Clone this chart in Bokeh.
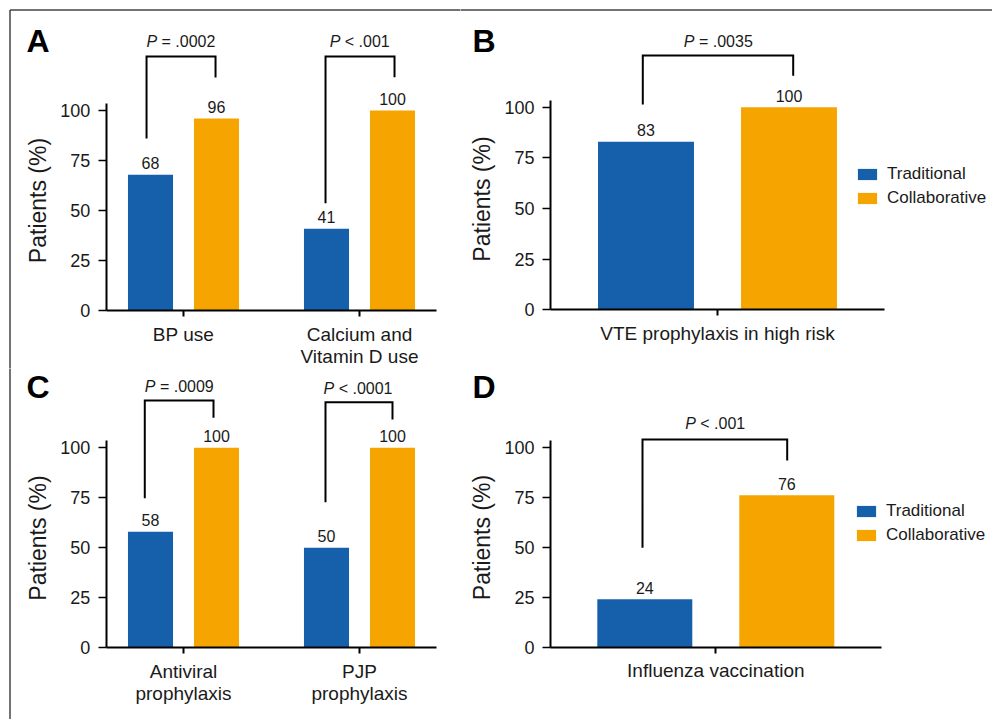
import math
from bokeh.plotting import figure
from bokeh.layouts import row, column
from bokeh.models import Range1d, FixedTicker, Legend, LegendItem
from bokeh.core.properties import value
from bokeh.embed import file_html
from bokeh.resources import INLINE

FONT = "Liberation Sans"
TXT = "#1a1a1a"
BLUE = "#1660AB"
ORANGE = "#F6A500"
BORDER = "#444444"

# ---------------- data ----------------
series_names = ["Traditional", "Collaborative"]
y_ticks = [0, 25, 50, 75, 100]

a_categories = ["BP use", "Calcium and\nVitamin D use"]
a_traditional = [68, 41]
a_collaborative = [96, 100]
a_p_ops = ["=", "<"]
a_p_values = [".0002", ".001"]

b_categories = ["VTE prophylaxis in high risk"]
b_traditional = [83]
b_collaborative = [100]
b_p_ops = ["="]
b_p_values = [".0035"]

c_categories = ["Antiviral\nprophylaxis", "PJP\nprophylaxis"]
c_traditional = [58, 50]
c_collaborative = [100, 100]
c_p_ops = ["=", "<"]
c_p_values = [".0009", ".0001"]

d_categories = ["Influenza vaccination"]
d_traditional = [24]
d_collaborative = [76]
d_p_ops = ["<"]
d_p_values = [".001"]

# ---------------- layout constants (data units of each panel) ----------------
PSIZE = 16
CHAR_W = {" ": 0.278, "=": 0.584, "<": 0.584, ".": 0.278, "P": 0.667}


def tw(s, size):
    return sum(CHAR_W.get(c, 0.556) for c in s) * size


CFG = {
    "A": dict(w=460, h=368, xr=(-0.0398, 2.5739), yr=(-28.68, 154.86),
              yaxis_x=0.5608, xaxis_end=2.4375, off=0.1875, bw=0.256,
              # (left leg dx, right leg dx, top y, left leg bottom, right leg bottom, text y, text dx)
              brackets=[(-0.210, 0.182, 126.93, 86.03, 116.46, 134.26, -0.015),
                        (-0.193, 0.199, 126.93, 53.77, 116.61, 134.26, 0.001)],
              letter=(0.108, 134.66), ylabel=(0.1705, 55.11), legend=None,
              border=dict(x=0.0142, y=150.12)),
    "B": dict(w=532, h=368, xr=(-0.7972, 2.9231), yr=(-28.97, 152.67),
              yaxis_x=-0.1678, xaxis_end=2.1678, off=0.5, bw=0.671,
              brackets=[(-0.5224, 0.5294, 125.52, 101.33, 115.50, 132.67, 0.0056)],
              letter=(-0.7133, 132.67), ylabel=(-0.6503, 54.69), legend=(395, 158),
              border=dict(x=None, y=147.98)),
    "C": dict(w=460, h=351, xr=(-0.0398, 2.5739), yr=(-35.85, 139.65),
              yaxis_x=0.5608, xaxis_end=2.4375, off=0.1875, bw=0.256,
              brackets=[(-0.220, 0.1705, 123.65, 74.8, 115.0, 130.75, -0.024),
                        (-0.1932, 0.1875, 122.8, 72.8, 114.15, 129.75, -0.0085)],
              letter=(0.108, 130.65), ylabel=(0.1705, 54.9), legend=None,
              border=dict(x=0.0142, y=None)),
    "D": dict(w=532, h=351, xr=(-0.7979, 2.9486), yr=(-36.15, 139.35),
              yaxis_x=-0.1641, xaxis_end=2.1648, off=0.5, bw=0.669,
              brackets=[(-0.5162, 0.5028, 103.85, 49.7, 93.35, 111.7, -0.004)],
              letter=(-0.7134, 130.35), ylabel=(-0.650, 54.85), legend=(394, 172),
              border=dict(x=None, y=None)),
}


def panel(letter, cats, trad, coll, p_ops, p_vals):
    c = CFG[letter]
    p = figure(width=c["w"], height=c["h"], x_range=Range1d(*c["xr"]),
               y_range=Range1d(*c["yr"]), output_backend="svg", toolbar_location=None,
               min_border_left=0, min_border_right=0, min_border_top=0, min_border_bottom=0)
    p.outline_line_color = None
    p.xgrid.visible = False
    p.ygrid.visible = False
    p.background_fill_color = "white"
    p.border_fill_color = "white"

    groups = list(range(1, len(cats) + 1))
    xb = [g - c["off"] for g in groups]
    xo = [g + c["off"] for g in groups]
    r_blue = p.vbar(x=xb, top=trad, width=c["bw"], fill_color=BLUE, line_color=None)
    r_orange = p.vbar(x=xo, top=coll, width=c["bw"], fill_color=ORANGE, line_color=None)

    # value labels above bars
    p.text(x=xb + xo, y=trad + coll, text=[str(v) for v in trad + coll],
           text_font=value(FONT), text_font_size="16px", text_color=TXT,
           text_align="center", text_baseline="middle", y_offset=-11.5)

    # significance brackets with italic P
    for g, (dl, dr, top, lb, rb, ty, tx), op, val in zip(groups, c["brackets"], p_ops, p_vals):
        p.line(x=[g + dl, g + dl, g + dr, g + dr], y=[lb, top, top, rb],
               line_width=2, line_color="black", line_join="miter")
        rest = f"{op} {val}"
        W = tw("P " + rest, PSIZE)
        p.text(x=[g + tx], y=[ty], text=["P"], x_offset=-W / 2,
               text_font=value(FONT), text_font_size=f"{PSIZE}px", text_font_style="italic",
               text_color=TXT, text_align="left", text_baseline="middle")
        p.text(x=[g + tx], y=[ty], text=[rest], x_offset=-W / 2 + tw("P ", PSIZE),
               text_font=value(FONT), text_font_size=f"{PSIZE}px",
               text_color=TXT, text_align="left", text_baseline="middle")

    # axes (fixed inside the full-canvas frame)
    xa = p.xaxis[0]
    xa.fixed_location = 0
    xa.bounds = (c["yaxis_x"], c["xaxis_end"])
    xa.ticker = FixedTicker(ticks=groups)
    xa.major_label_overrides = {g: lab for g, lab in zip(groups, cats)}
    xa.major_label_text_font = FONT
    xa.major_label_text_font_size = "19px"
    xa.major_label_text_line_height = 1.05
    xa.major_label_text_color = TXT
    xa.axis_line_width = 2
    xa.axis_line_color = "black"
    xa.major_tick_line_width = 2
    xa.major_tick_line_color = "black"
    xa.major_tick_out = 6
    xa.major_tick_in = 0
    xa.minor_tick_out = 0
    xa.minor_tick_in = 0
    xa.major_label_standoff = 7

    ya = p.yaxis[0]
    ya.fixed_location = c["yaxis_x"]
    ya.bounds = (0, 103.5)
    ya.ticker = FixedTicker(ticks=y_ticks)
    ya.major_label_text_font = FONT
    ya.major_label_text_font_size = "18px"
    ya.major_label_text_color = TXT
    ya.axis_line_width = 2
    ya.axis_line_color = "black"
    ya.major_tick_line_width = 1.5
    ya.major_tick_line_color = "black"
    ya.major_tick_out = 8
    ya.major_tick_in = 0
    ya.minor_tick_out = 0
    ya.minor_tick_in = 0
    ya.major_label_standoff = 8

    # panel letter and y-axis title
    lx, ly = c["letter"]
    p.text(x=[lx], y=[ly], text=[letter], text_font=value(FONT), text_font_size="32px",
           text_font_style="bold", text_color="black", text_align="left", text_baseline="middle")
    yx, yy = c["ylabel"]
    p.text(x=[yx], y=[yy], text=["Patients (%)"], angle=math.pi / 2, text_font=value(FONT),
           text_font_size="23px", text_color=TXT, text_align="center", text_baseline="middle")

    if c["legend"] is not None:
        leg = Legend(items=[LegendItem(label=series_names[0], renderers=[r_blue]),
                            LegendItem(label=series_names[1], renderers=[r_orange])],
                     location=c["legend"], orientation="vertical", border_line_color=None,
                     background_fill_alpha=0, padding=0, margin=0, spacing=0,
                     glyph_width=24, glyph_height=14, label_standoff=8,
                     label_text_font=FONT, label_text_font_size="17px", label_text_color=TXT,
                     label_height=24)
        p.add_layout(leg)

    # outer frame of the figure (left and top edges)
    b = c["border"]
    x0, x1 = c["xr"]
    y0, y1 = c["yr"]
    if b["x"] is not None:
        ytop = b["y"] if b["y"] is not None else y1 + 10
        p.line(x=[b["x"], b["x"]], y=[y0 - 10, ytop], line_width=1.5, line_color=BORDER)
    if b["y"] is not None:
        xs = b["x"] if b["x"] is not None else x0 - 1
        p.line(x=[xs, x1 + 1], y=[b["y"], b["y"]], line_width=1.5, line_color=BORDER)
    return p


pa = panel("A", a_categories, a_traditional, a_collaborative, a_p_ops, a_p_values)
pb = panel("B", b_categories, b_traditional, b_collaborative, b_p_ops, b_p_values)
pc = panel("C", c_categories, c_traditional, c_collaborative, c_p_ops, c_p_values)
pd = panel("D", d_categories, d_traditional, d_collaborative, d_p_ops, d_p_values)

layout = column(row(pa, pb), row(pc, pd))

open("out.html", "w").write(file_html(layout, INLINE))
